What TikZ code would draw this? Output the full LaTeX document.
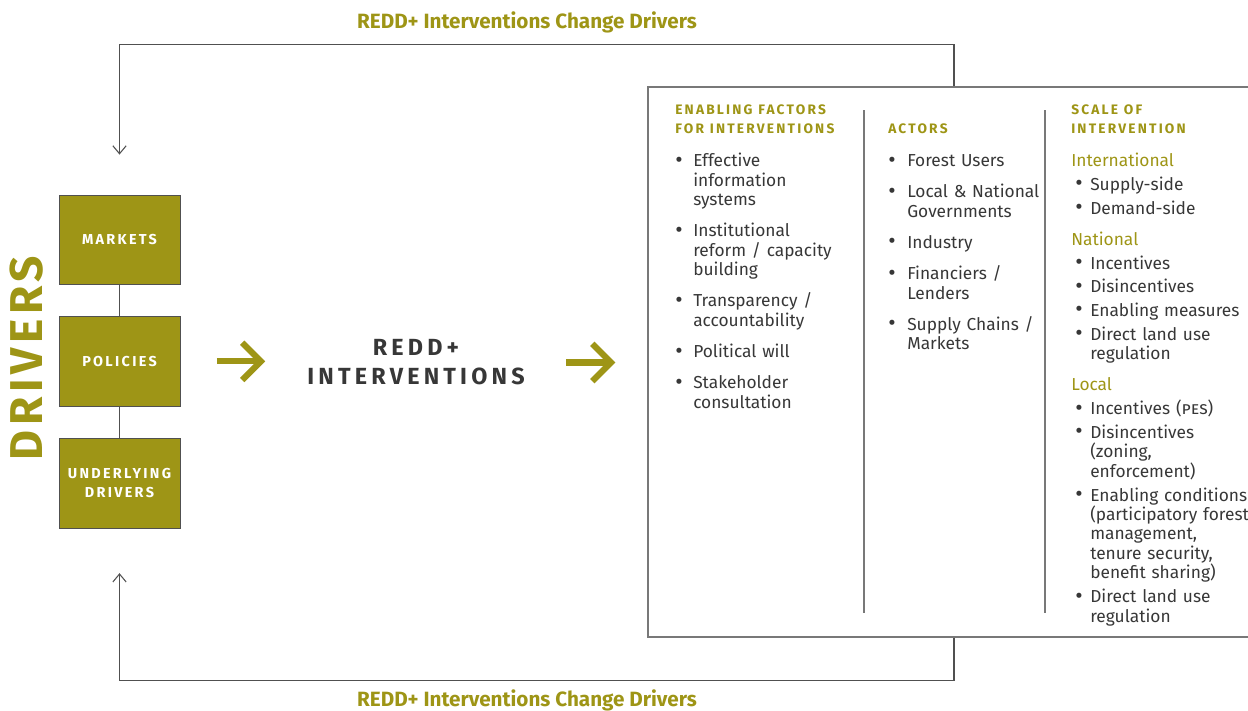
\documentclass[tikz,border=0pt]{standalone}
\usepackage{fontspec}
\setmainfont{Fira Sans}
\usepackage{tikz}
\usetikzlibrary{positioning, arrows.meta}

\definecolor{reddolive}{RGB}{158,149,22}
\definecolor{bodygray}{RGB}{55,55,55}
\definecolor{linegray}{RGB}{80,80,80}
\definecolor{framegray}{RGB}{120,120,120}

\newlength{\itmgap}
\newlength{\itmind}
\newlength{\bulskip}
\newcommand{\bul}{\raisebox{-0.05ex}{\fontsize{17pt}{17pt}\selectfont\textbullet}}
\newcommand{\itm}[1]{\par\vspace{\itmgap}{\raggedright\let\\\newline\noindent\hangindent=\itmind\hangafter=1\makebox[\itmind][l]{\hspace{\bulskip}\bul}#1\par}}
\newcommand{\scl}[1]{\par\vspace{8.8pt}\noindent{\color{reddolive}#1}\par}
\newcommand{\hd}[1]{{\fontsize{10.3pt}{13.9pt}\selectfont\bfseries\addfontfeatures{LetterSpace=16}\raggedright\noindent\color{reddolive}#1\par}\vspace{1.8pt}}
\newcommand{\colsetup}[3]{\setlength{\lineskiplimit}{-\maxdimen}\setlength{\itmgap}{#1}\setlength{\itmind}{#2}\setlength{\bulskip}{#3}}

\begin{document}
\begin{tikzpicture}[x=0.75pt, y=-0.75pt, node distance = 24pt,
driver/.style={rectangle, draw=linegray, fill=reddolive, minimum width=91pt, minimum height=67pt, inner sep=0pt, align=center, text=white, font=\fontsize{10.8pt}{14.25pt}\selectfont\bfseries\addfontfeatures{LetterSpace=16}},
column/.style={anchor=base west, inner sep=0pt, text=bodygray, font=\fontsize{13pt}{14.6pt}\selectfont},
link/.style={draw=linegray, semithick},
feedback/.style={draw=linegray, line width=0.8pt, -{Straight Barb[length=6pt, width=10pt]}},
bigarrow/.style={draw=reddolive, line width=4.6pt, -{Straight Barb[length=14pt, width=28pt]}},
looplabel/.style={text=reddolive, font=\fontsize{15.5pt}{17pt}\selectfont\bfseries},
colsep/.style={draw=framegray, line width=0.9pt},
]
\useasboundingbox (0,0) rectangle (1248,710);

%Nodes
\node [driver] (markets) at (119.5,239.5) {MARKETS};
\node [driver] (policies) [below = of markets] {POLICIES};
\node [driver] (underlying) [below = of policies] {UNDERLYING\\DRIVERS};
\node [rotate=90, text=reddolive, font=\fontsize{34.5pt}{34.5pt}\selectfont\bfseries\addfontfeatures{LetterSpace=10}] (drivers) at (27,358) {DRIVERS};

\node [inner sep=0pt, minimum width=195pt, align=center, text=bodygray, font=\fontsize{17.5pt}{21.75pt}\selectfont\bfseries\addfontfeatures{LetterSpace=18}] (redd) at (416,362.5) {REDD+\\INTERVENTIONS};

\node [draw=framegray, line width=0.9pt, minimum width=459pt, minimum height=412.5pt, inner sep=0pt] (frame) at (954,362) {};

\node [looplabel] (toplabel) at (527,22) {REDD+ Interventions Change Drivers};
\node [looplabel] (botlabel) at (527,700) {REDD+ Interventions Change Drivers};

% Columns
\node [column, text width=140pt] (enabling) at (675,114.5) {\colsetup{8.8pt}{13.5pt}{0pt}%
\hd{ENABLING FACTORS\\FOR INTERVENTIONS}
\itm{Effective\\information\\systems}
\itm{Institutional\\reform / capacity\\building}
\itm{Transparency /\\accountability}
\itm{Political will}
\itm{Stakeholder\\consultation}};

\node [column, text width=140pt] (actors) at (888,133) {\colsetup{8.8pt}{14.25pt}{0pt}%
\hd{ACTORS}
\itm{Forest Users}
\itm{Local \& National\\Governments}
\itm{Industry}
\itm{Financiers /\\Lenders}
\itm{Supply Chains /\\Markets}};

\node [column, text width=150pt] (scale) at (1071,114.5) {\colsetup{3.2pt}{14.25pt}{3pt}%
\hd{SCALE OF\\INTERVENTION}
\scl{International}
\itm{Supply-side}
\itm{Demand-side}
\scl{National}
\itm{Incentives}
\itm{Disincentives}
\itm{Enabling measures}
\itm{Direct land use\\regulation}
\scl{Local}
\itm{Incentives (\textsc{pes})}
\itm{Disincentives\\(zoning,\\enforcement)}
\itm{Enabling conditions\\(participatory forest\\management,\\tenure security,\\benefit sharing)}
\itm{Direct land use\\regulation}};

\draw [colsep] (864,110) -- (864,613);
\draw [colsep] (1045,110) -- (1045,613);

% Paths
\draw [link] (markets) -- (policies);
\draw [link] (policies) -- (underlying);

\draw [bigarrow, shorten <=27.4pt, shorten >=15.4pt] (policies.east) -- (policies.east -| redd.west);
\draw [bigarrow, shorten <=15pt, shorten >=24pt] (redd.east) -- (redd.east -| frame.west);

\draw [feedback, shorten >=30pt] (frame.north) -- ++(0,-42) -| (markets.north);
\draw [feedback, shorten >=33.75pt] (frame.south) -- ++(0,43) -| (underlying.south);
\end{tikzpicture}
\end{document}
